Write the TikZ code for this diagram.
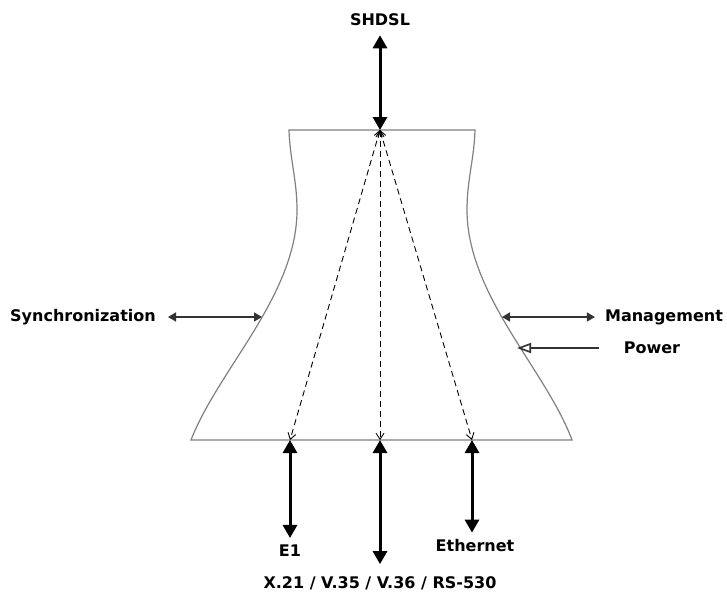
\documentclass[tikz,border=0pt]{standalone}
\usepackage{fontspec}
\setmainfont{DejaVu Sans}
\usetikzlibrary{arrows.meta}

\tikzset{
  lbl/.style={font=\bfseries\fontsize{16}{19}\selectfont, inner sep=0pt},
  body/.style={draw=black!50, line width=1.2pt},
  bus/.style={line width=3pt, {Triangle[length=13pt,width=14pt]}-{Triangle[length=13pt,width=14pt]}},
  ctl/.style={line width=1.6pt, draw=black!80, {Triangle[length=8pt,width=9pt]}-{Triangle[length=8pt,width=9pt]}},
  pwr/.style={line width=1.6pt, draw=black!80, -{Triangle[open,length=14pt,width=10pt]}},
  route/.style={dash pattern=on 6pt off 4pt, line width=0.9pt, {Straight Barb[length=6pt,width=8pt]}-{Straight Barb[length=6pt,width=8pt]}}
}

\begin{document}
\begin{tikzpicture}[x=1pt, y=-1pt]
    \useasboundingbox (0,0) rectangle (727,592);

    % device outline
    \draw[body] (289,130) -- (475,130)
        .. controls (474,160) and (467,180) .. (467,210)
        .. controls (467,295) and (546,370) .. (572,440)
        -- (191,440)
        .. controls (218,370) and (297,295) .. (297,210)
        .. controls (297,180) and (290,160) .. cycle;

    % ports on the outline
    \coordinate (hub) at (380,130);
    \coordinate (e1) at (290,440);
    \coordinate (ser) at (380,440);
    \coordinate (eth) at (472,440);
    \coordinate (syncin) at (262,317);
    \coordinate (mgmtin) at (502,317);
    \coordinate (pwrin) at (517,348);

    % labels
    \node[lbl] (shdsl) at (380,20) {SHDSL};
    \node[lbl] (e1lbl) at (290,551) {E1};
    \node[lbl] (serlbl) at (380,583) {X.21 / V.35 / V.36 / RS-530};
    \node[lbl] (ethlbl) at (475,546) {Ethernet};
    \node[lbl] (synclbl) at (83,317) {Synchronization};
    \node[lbl] (mgmtlbl) at (664,317) {Management};
    \node[lbl] (pwrlbl) at (652,348) {Power};

    % line and user interfaces
    \draw[bus] ([yshift=-9pt]shdsl.south) -- (hub);
    \draw[bus] (e1) -- ([yshift=7pt]e1lbl.north);
    \draw[bus] (ser) -- ([yshift=12pt]serlbl.north);
    \draw[bus] (eth) -- ([yshift=7pt]eth |- ethlbl.north);

    % internal paths
    \draw[route] (hub) -- (e1);
    \draw[route] (hub) -- (ser);
    \draw[route] (hub) -- (eth);

    % side interfaces
    \draw[ctl] ([xshift=12pt]synclbl.east) -- (syncin);
    \draw[ctl] (mgmtin) -- ([xshift=-10pt]mgmtlbl.west);
    \draw[pwr] ([xshift=-25pt]pwrlbl.west) -- (pwrin);
\end{tikzpicture}
\end{document}
